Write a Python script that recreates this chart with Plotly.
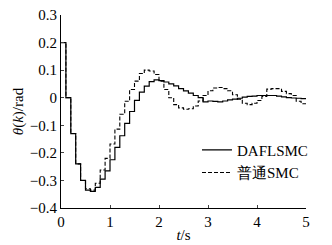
import plotly.graph_objects as go

t = [round(0.1 * i, 1) for i in range(51)]

dafl = [0.20, 0.00, -0.13, -0.24, -0.30, -0.335, -0.34, -0.325, -0.295, -0.265,
        -0.225, -0.18, -0.138, -0.093, -0.05, -0.01, 0.02, 0.042, 0.058, 0.065,
        0.062, 0.057, 0.05, 0.043, 0.033, 0.025, 0.017, 0.008, 0.0, -0.015,
        -0.012, -0.013, -0.015, -0.012, -0.008, -0.005, -0.002, 0.002, 0.005, 0.006,
        0.008, 0.008, 0.008, 0.008, 0.006, 0.003, 0.0, -0.001, -0.002, -0.003,
        -0.003]

smc = [0.20, 0.00, -0.13, -0.24, -0.30, -0.33, -0.335, -0.31, -0.262, -0.22,
       -0.168, -0.114, -0.06, -0.013, 0.03, 0.06, 0.088, 0.10, 0.097, 0.084,
       0.06, 0.03, 0.0, -0.025, -0.037, -0.042, -0.04, -0.03, -0.012, 0.008,
       0.025, 0.035, 0.037, 0.033, 0.025, 0.011, -0.005, -0.02, -0.025, -0.02,
       -0.01, 0.005, 0.031, 0.033, 0.033, 0.023, 0.015, 0.008, -0.013, -0.022,
       -0.027]

names = ["DAFLSMC", "普通SMC"]
x_ticks = [0, 1, 2, 3, 4, 5]
y_ticks = [-0.4, -0.3, -0.2, -0.1, 0, 0.1, 0.2, 0.3]
y_tick_text = ["\u22120.4", "\u22120.3", "\u22120.2", "\u22120.1", "0", "0.1", "0.2", "0.3"]

font = "Liberation Serif"

fig = go.Figure()
fig.add_trace(go.Scatter(x=t, y=dafl, name=names[0], mode="lines",
                         line=dict(color="black", width=1.2, shape="hv")))
fig.add_trace(go.Scatter(x=t, y=smc, name=names[1], mode="lines",
                         line=dict(color="black", width=1.1, shape="hv", dash="4px,2px")))

fig.update_layout(
    width=324, height=237,
    margin=dict(l=53, r=26, t=7, b=37),
    paper_bgcolor="white", plot_bgcolor="white",
    font=dict(family=font, size=15, color="black"),
    showlegend=True,
    legend=dict(x=0.555, y=0.385, xanchor="left", yanchor="top",
                bgcolor="rgba(0,0,0,0)", borderwidth=0,
                font=dict(family=font, size=15), tracegroupgap=0, itemwidth=30),
    xaxis=dict(range=[0, 5], tickvals=x_ticks, ticks="inside", ticklen=3,
               showline=True, linecolor="black", linewidth=1, showgrid=False,
               zeroline=False, automargin=False, ticklabeloverflow="allow",
               title=dict(text="<i>t</i>/s", standoff=0, font=dict(family=font, size=15)),
               tickfont=dict(family=font, size=15)),
    yaxis=dict(range=[-0.4, 0.3], tickvals=y_ticks, ticktext=y_tick_text,
               ticks="inside", ticklen=3,
               showline=True, linecolor="black", linewidth=1, showgrid=False,
               zeroline=False, automargin=False, ticklabeloverflow="allow",
               title=dict(text="<i>θ</i>(<i>k</i>)/rad", standoff=2, font=dict(family=font, size=15)),
               tickfont=dict(family=font, size=15)),
)

fig.write_html("out.html")
